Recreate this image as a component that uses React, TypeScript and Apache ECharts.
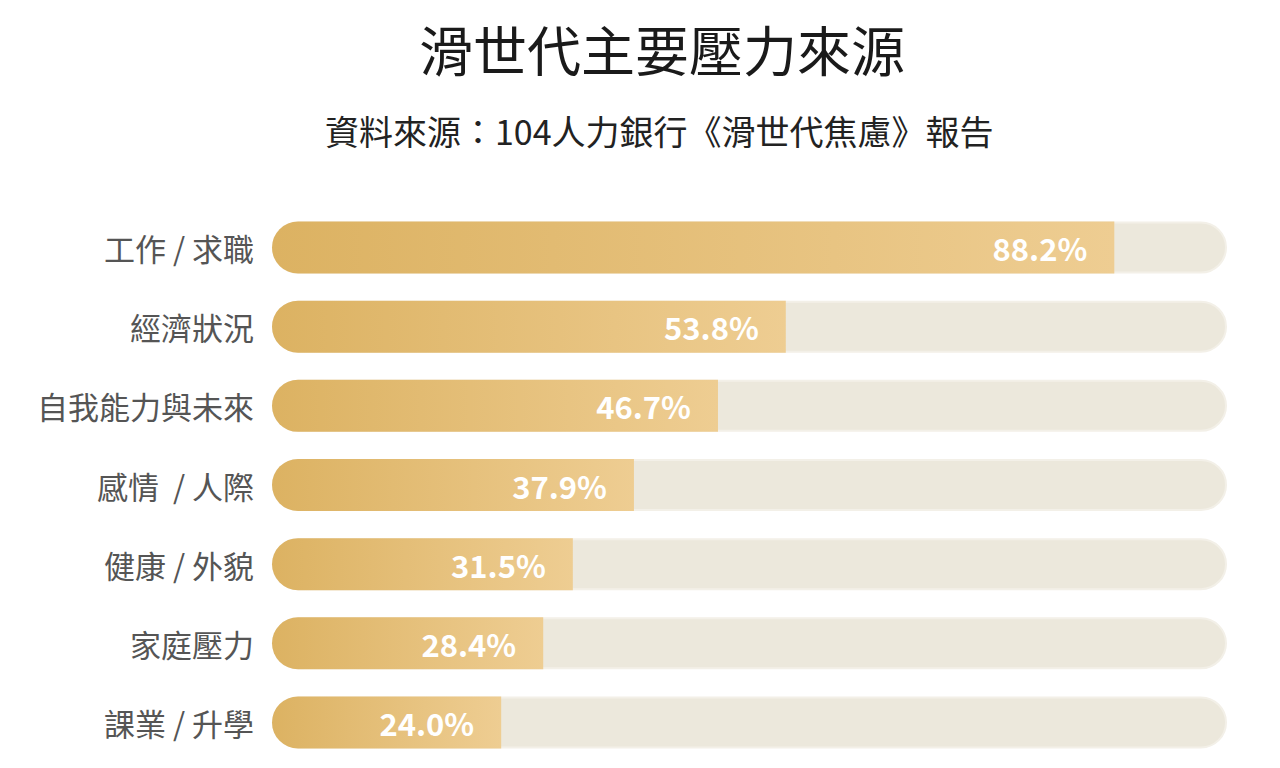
import React, { useEffect, useRef } from "react";
import * as echarts from "echarts";

const categories = ["工作 / 求職", "經濟狀況", "自我能力與未來", "感情  / 人際", "健康 / 外貌", "家庭壓力", "課業 / 升學"];
const values = [88.2, 53.8, 46.7, 37.9, 31.5, 28.4, 24.0];
const fullValues = [100, 100, 100, 100, 100, 100, 100];

const FONT = '"Noto Sans CJK TC", "Noto Sans", sans-serif';

export default function App() {
  const ref = useRef<HTMLDivElement>(null);
  useEffect(() => {
    if (!ref.current) return;
    const chart = echarts.init(ref.current, undefined, { renderer: "svg" });
    chart.setOption({
      animation: false,
      backgroundColor: "#ffffff",
      title: [
        {
          text: "滑世代主要壓力來源",
          left: 414,
          top: 16,
          textStyle: { fontFamily: FONT, fontSize: 54, fontWeight: "normal", color: "#1a1a1a" },
        },
        {
          text: "資料來源：104人力銀行《滑世代焦慮》報告",
          left: 320,
          top: 108,
          textStyle: { fontFamily: FONT, fontSize: 34, fontWeight: "normal", color: "#222222" },
        },
      ],
      grid: { left: 272, right: 53, top: 208, bottom: 6, containLabel: false },
      xAxis: { type: "value", min: 0, max: 100, show: false },
      yAxis: {
        type: "category",
        data: categories,
        inverse: true,
        axisLine: { show: false },
        axisTick: { show: false },
        axisLabel: { fontFamily: FONT, fontSize: 31, color: "#555555", margin: 18 },
      },
      series: [
        {
          type: "bar",
          data: fullValues,
          barWidth: 52,
          silent: true,
          z: 1,
          itemStyle: { color: "#ece8dc", borderColor: "#f3f0e8", borderWidth: 2, borderRadius: 26 },
        },
        {
          type: "bar",
          data: values,
          barWidth: 52,
          barGap: "-100%",
          z: 2,
          itemStyle: {
            borderRadius: [26, 0, 0, 26],
            color: new echarts.graphic.LinearGradient(0, 0, 1, 0, [
              { offset: 0, color: "#dcb262" },
              { offset: 1, color: "#eecd92" },
            ]),
          },
          label: {
            show: true,
            position: "insideRight",
            distance: 27,
            formatter: (p: any) => p.value.toFixed(1) + "%",
            fontFamily: FONT,
            fontSize: 31,
            fontWeight: "bold",
            color: "#ffffff",
          },
        },
      ],
    });
    return () => chart.dispose();
  }, []);
  return <div ref={ref} style={{ position: "fixed", left: 0, top: 0, width: 1280, height: 768 }} />;
}
